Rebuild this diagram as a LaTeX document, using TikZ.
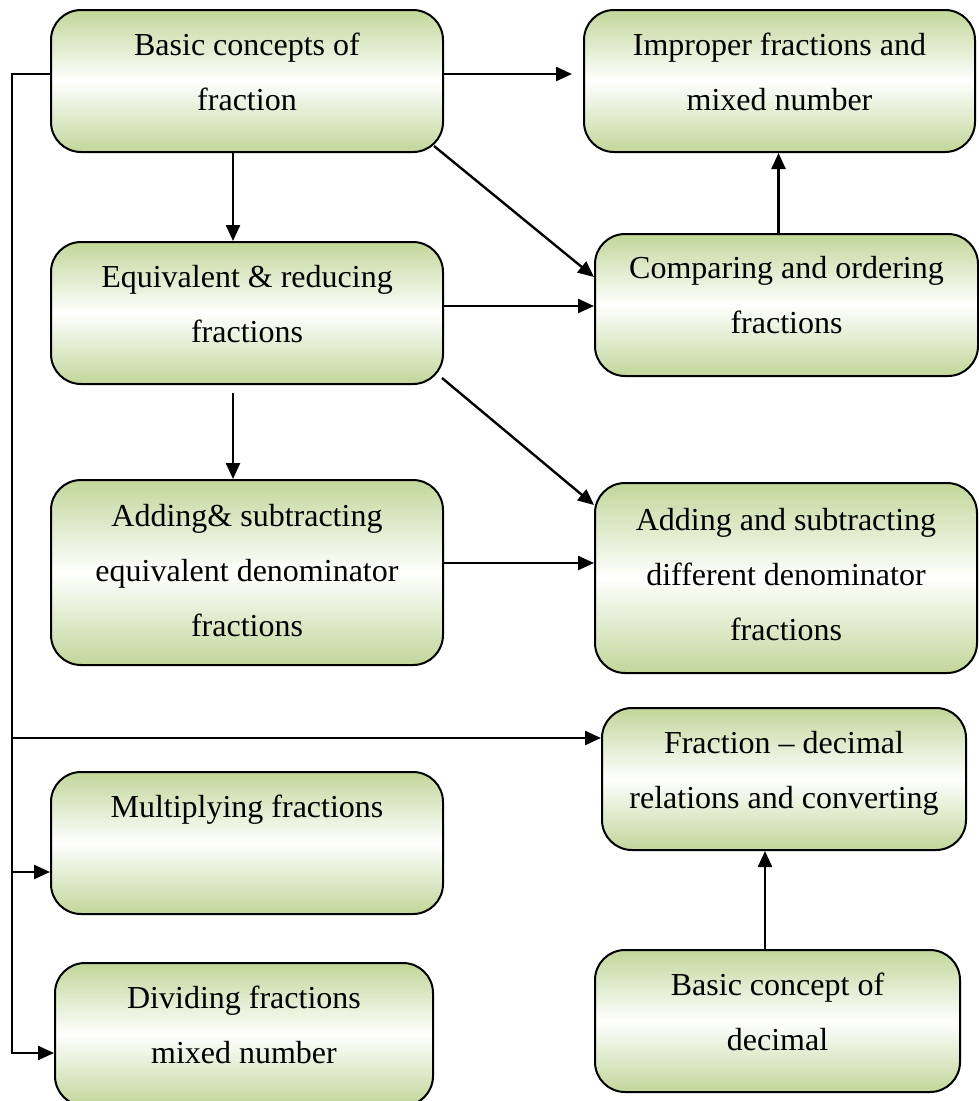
\documentclass[tikz,border=0pt]{standalone}
\usepackage{fontspec}
\setmainfont{Liberation Serif}
\usetikzlibrary{arrows.meta}

\definecolor{boxgreen}{RGB}{194,214,154}

\tikzset{
  topicbox/.style={draw=black, line width=2pt, rounded corners=30pt,
    top color=boxgreen, bottom color=boxgreen, middle color=white,
    inner sep=0pt},
  topictext/.style={anchor=base, inner sep=0pt},
  link/.style={draw=black, line width=2.4pt},
  arr/.style={link, -{Triangle[length=16pt,width=14pt]}}
}

% #1 name, #2 left, #3 top, #4 right, #5 bottom, #6 first baseline offset, #7 text
\newcommand\topic[7]{%
  \node[topicbox, minimum width={#4-#2}, minimum height={#5-#3}]
    (#1) at ({(#2+#4)/2},{(#3+#5)/2}) {};
  \node[topictext] (#1-text) at ({(#2+#4)/2},{#3+#6})
    {\parbox[t]{\dimexpr#4pt-#2pt-16pt\relax}{\fontsize{32}{55}\selectfont\centering #7}};
}

\begin{document}
\begin{tikzpicture}[x=1pt,y=-1pt]
  \useasboundingbox (0,0) rectangle (979,1101);
  \fill[white] (0,0) rectangle (979,1101);

  % topic boxes
  \topic{basic}{51}{10}{443}{152}{45}{Basic concepts of\\fraction}
  \topic{improper}{584}{10}{975}{152}{45}{Improper fractions and\\mixed number}
  \topic{equiv}{51}{242}{443}{384}{45}{Equivalent \& reducing\\fractions}
  \topic{comp}{595}{234}{978}{376}{44}{Comparing and ordering\\fractions}
  \topic{addeq}{51}{480}{443}{665}{46}{Adding\& subtracting\\equivalent denominator\\fractions}
  \topic{adddiff}{595}{483}{977}{673}{47}{Adding and subtracting\\different denominator\\fractions}
  \topic{frac}{602}{708}{966}{850}{45}{Fraction – decimal\\relations and converting}
  \topic{mult}{51}{772}{443}{914}{45}{Multiplying fractions}
  \topic{divide}{55}{963}{433}{1106}{45}{Dividing fractions\\mixed number}
  \topic{dec}{595}{950}{960}{1092}{45}{Basic concept of\\decimal}

  % arrows between topics
  \draw[arr] ([yshift=7pt]basic.east) -- ([xshift=-11pt,yshift=7pt]improper.west);
  \draw[arr] ([xshift=-14pt]basic.south) -- ([xshift=-14pt]equiv.north);
  \draw[arr] ([shift={(-10pt,7pt)}]basic.south east) -- ([yshift=28pt]comp.west);
  \draw[arr] ([yshift=7pt]equiv.east) -- ([yshift=7pt]equiv.east -| comp.west);
  \draw[arr] ([xshift=-8pt]comp.north) -- ([xshift=-8pt]comp.north |- improper.south);
  \draw[arr] ([shift={(-14pt,-8pt)}]equiv.south) -- ([xshift=-14pt]addeq.north);
  \draw[arr] ([shift={(-2pt,7pt)}]equiv.south east) -- ([yshift=73pt]adddiff.west);
  \draw[arr] ([yshift=9.5pt]addeq.east) -- ([yshift=9.5pt]addeq.east -| adddiff.west);
  \draw[arr] ([xshift=-12.5pt]dec.north) -- ([xshift=-12.5pt]dec.north |- frac.south);

  % left-hand bus with its branches
  \coordinate (busT) at (12,74);
  \coordinate (busB) at (12,1053);
  \coordinate (busF) at (12,738);
  \coordinate (busM) at (12,872);
  \draw[arr] ([yshift=7pt]basic.west) -- (busT) -- (busB) -- (busB -| divide.west);
  \draw[arr] (busF) -- (busF -| frac.west);
  \draw[arr] (busM) -- (busM -| mult.west);
\end{tikzpicture}
\end{document}
